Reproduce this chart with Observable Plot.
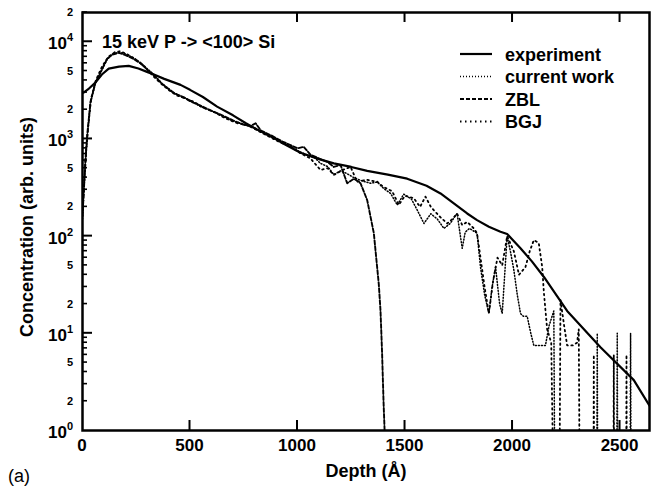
<!DOCTYPE html>
<html><head><meta charset="utf-8">
<script src="https://cdn.jsdelivr.net/npm/d3@7"></script>
<script src="https://cdn.jsdelivr.net/npm/@observablehq/plot@0.6"></script>
<style>body{margin:0;background:#fff} svg{display:block}</style>
</head><body><div id="chart"></div>
<script>
// ---- data: [depth (Å), concentration (arb. units)] ----
const experiment = [[5,3000],[30,3300],[60,3800],[90,4600],[122,5300],[170,5550],[215,5650],[260,5300],[300,4900],[332,4600],[380,4150],[456,3600],[500,3200],[560,2700],[626,2150],[700,1750],[760,1450],[812,1250],[880,1050],[940,880],[1014,720],[1100,620],[1169,560],[1250,515],[1324,470],[1420,430],[1510,390],[1600,330],[1665,275],[1730,215],[1789,171],[1835,146],[1890,125],[1944,111],[1975,105],[2037,75],[2090,55],[2146,38],[2254,17],[2409,7.2],[2564,3.3],[2637,1.8]];

const currentWork = [[0,150],[6,275],[14,600],[22,1050],[37,2340],[60,3740],[92,5200],[115,6600],[140,7500],[169,7800],[200,7500],[240,6800],[270,6100],[300,5300],[332,4600],[370,3700],[400,3300],[425,3000],[470,2650],[500,2500],[549,2150],[600,1950],[650,1720],[700,1530],[750,1420],[800,1300],[850,1120],[900,990],[950,880],[1000,760],[1040,690],[1080,640],[1107,560],[1140,520],[1169,430],[1200,470],[1230,440],[1262,400],[1300,370],[1340,350],[1371,360],[1400,310],[1433,275],[1464,209],[1494,270],[1530,240],[1557,185],[1588,135],[1620,170],[1650,150],[1681,120],[1710,135],[1742,171],[1766,75],[1780,110],[1800,120],[1835,107],[1851,48],[1870,25],[1890,16],[1905,30],[1921,48],[1940,20],[1952,16],[1975,100],[1990,70],[2006,45],[2022,25],[2037,16],[2050,15],[2068,15],[2085,10],[2099,7.5],[2130,7.5],[2153,7.5],[2170,12],[2192,17],[2200,0.01],[2390,0.01],[2394,10],[2398,0.01],[2483,0.01],[2487,10],[2491,0.01],[2545,0.01],[2549,10],[2553,0.01]];

const zbl = [[0,160],[6,290],[14,620],[22,1100],[37,2400],[60,3800],[92,5300],[115,6700],[140,7400],[169,7700],[200,7300],[240,6600],[270,6000],[300,5200],[332,4500],[370,3700],[425,2950],[470,2700],[500,2450],[549,2200],[600,1950],[650,1750],[700,1550],[750,1400],[780,1350],[805,1450],[830,1220],[880,1080],[930,940],[970,860],[1000,800],[1029,830],[1060,690],[1107,620],[1140,580],[1169,515],[1200,540],[1231,350],[1262,390],[1293,350],[1324,235],[1355,107],[1378,32],[1386,17],[1393,6.6],[1400,2],[1405,1],[1408,0.01]];

const bgj = [[0,180],[8,350],[16,700],[26,1300],[40,2600],[62,4000],[90,5500],[120,7000],[150,7800],[175,8000],[210,7400],[250,6500],[290,5500],[330,4400],[360,3800],[400,3200],[440,2800],[480,2600],[520,2400],[560,2100],[610,1900],[660,1650],[720,1450],[770,1380],[820,1200],[870,1050],[920,920],[970,830],[1010,720],[1060,630],[1107,480],[1140,500],[1169,426],[1210,480],[1247,515],[1277,363],[1320,380],[1371,363],[1400,320],[1440,290],[1471,210],[1500,260],[1541,245],[1570,200],[1595,255],[1620,200],[1660,160],[1696,135],[1720,150],[1742,171],[1766,130],[1789,140],[1820,120],[1835,107],[1851,60],[1870,30],[1890,16],[1910,35],[1930,60],[1952,50],[1975,100],[2006,70],[2030,40],[2060,48],[2080,70],[2099,91],[2122,85],[2138,48],[2146,26],[2161,11],[2180,8],[2200,0.01],[2215,0.01],[2223,22],[2240,12],[2254,7.5],[2280,7.5],[2300,8],[2308,11],[2316,0.01],[2375,0.01],[2378,6],[2381,0.01],[2468,0.01],[2471,6],[2474,0.01],[2527,0.01],[2530,6],[2533,0.01]];

const seriesNames = ["experiment", "current work", "ZBL", "BGJ"];
const seriesData = [experiment, currentWork, zbl, bgj];
const depthTicks = [0, 500, 1000, 1500, 2000, 2500];
const decadeTicks = [1, 10, 100, 1000, 10000];
const decadeExponents = ["0", "1", "2", "3", "4"];
const minorMultipliers = [2, 3, 4, 5, 6, 7, 8, 9];
const labeledMultipliers = [2, 5];
const titleText = "15 keV P -> <100> Si";
const xLabel = "Depth (Å)";
const yLabel = "Concentration (arb. units)";
const panelLabel = "(a)";

// ---- styles ----
const styles = [
  {strokeWidth: 2.2, dash: null},
  {strokeWidth: 1.5, dash: "1,2"},
  {strokeWidth: 1.9, dash: "4,2"},
  {strokeWidth: 1.8, dash: "1.5,3.5"}
];
const FONT = "'Liberation Sans', Arial, Helvetica, sans-serif";

const rows = (name, arr) => arr.map(([depth, conc]) => ({series: name, depth, conc}));

const chart = Plot.plot({
  width: 658, height: 493,
  marginLeft: 82, marginRight: 9, marginTop: 12, marginBottom: 63,
  style: {fontFamily: FONT, background: "white"},
  x: {domain: [0, 2637], axis: null},
  y: {type: "log", domain: [1, 20000], axis: null},
  marks: [
    ...seriesData.map((d, i) => Plot.line(rows(seriesNames[i], d), {
      x: "depth", y: "conc", stroke: "black",
      strokeWidth: styles[i].strokeWidth,
      strokeDasharray: styles[i].dash,
      clip: true
    })),
    Plot.frame({stroke: "black", strokeWidth: 2.5})
  ]
});

const sx = chart.scale("x"), sy = chart.scale("y");
const svg = d3.select(chart);
const g = svg.append("g").attr("font-family", FONT).attr("fill", "black").attr("text-anchor", "start");
const x0 = sx.apply(0), yBottom = sy.apply(1), yTop = sy.apply(20000);

// x ticks (inward, bottom and top)
depthTicks.forEach(v => {
  const x = sx.apply(v);
  if (v > 0) {
    g.append("line").attr("x1", x).attr("x2", x).attr("y1", yBottom).attr("y2", yBottom - 10).attr("stroke", "black").attr("stroke-width", 2);
    g.append("line").attr("x1", x).attr("x2", x).attr("y1", yTop).attr("y2", yTop + 10).attr("stroke", "black").attr("stroke-width", 2);
  }
  g.append("text").attr("x", x).attr("y", yBottom + 21).attr("text-anchor", "middle")
    .attr("font-size", 17).attr("font-weight", "bold").text(String(v));
});

// y ticks
decadeTicks.forEach((v, i) => {
  const y = sy.apply(v);
  if (i > 0) g.append("line").attr("x1", x0).attr("x2", x0 + 10).attr("y1", y).attr("y2", y).attr("stroke", "black").attr("stroke-width", 2);
  const t = g.append("text").attr("x", x0 - 9).attr("y", y + 8).attr("text-anchor", "end")
    .attr("font-size", 17).attr("font-weight", "bold");
  t.append("tspan").text("10");
  t.append("tspan").attr("font-size", 11).attr("dy", -8).text(decadeExponents[i]);
});
decadeTicks.forEach(base => {
  minorMultipliers.forEach(m => {
    const v = base * m;
    if (v > 20000) return;
    const y = sy.apply(v);
    g.append("line").attr("x1", x0).attr("x2", x0 + 5).attr("y1", y).attr("y2", y).attr("stroke", "black").attr("stroke-width", 1.6);
    if (labeledMultipliers.includes(m)) {
      g.append("text").attr("x", x0 - 9).attr("y", y + 4).attr("text-anchor", "end")
        .attr("font-size", 11).attr("font-weight", "bold").text(String(m));
    }
  });
});

// axis labels
g.append("text").attr("x", 366).attr("y", 477).attr("text-anchor", "middle")
  .attr("font-size", 18).attr("font-weight", "bold").text(xLabel);
g.append("text").attr("transform", "translate(33,227) rotate(-90)").attr("text-anchor", "middle")
  .attr("font-size", 18).attr("font-weight", "bold").text(yLabel);
g.append("text").attr("x", 8).attr("y", 482).attr("text-anchor", "start").attr("font-size", 18).text(panelLabel);

// title
g.append("text").attr("x", 102).attr("y", 48).attr("text-anchor", "start").attr("font-size", 18).attr("font-weight", "bold").text(titleText);

// legend
seriesNames.forEach((name, i) => {
  const yl = 54 + i * 22.5;
  g.append("line").attr("x1", 460).attr("x2", 492).attr("y1", yl).attr("y2", yl)
    .attr("stroke", "black").attr("stroke-width", styles[i].strokeWidth)
    .attr("stroke-dasharray", styles[i].dash);
  g.append("text").attr("x", 505).attr("y", yl + 6.5).attr("text-anchor", "start").attr("font-size", 18).attr("font-weight", "bold").text(name);
});

document.getElementById("chart").appendChild(chart);
</script>
</body></html>
